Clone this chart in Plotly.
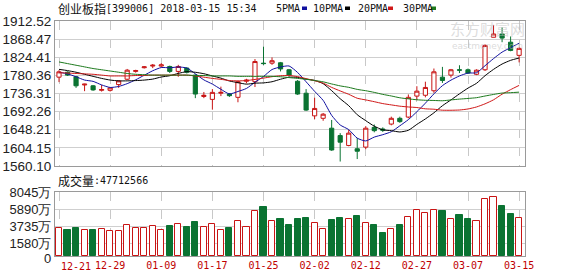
import plotly.graph_objects as go

# ---------------- data ----------------
dates = ["2017-12-21", "2017-12-22", "2017-12-25", "2017-12-26", "2017-12-27", "2017-12-28", "2017-12-29",
         "2018-01-02", "2018-01-03", "2018-01-04", "2018-01-05", "2018-01-08", "2018-01-09", "2018-01-10",
         "2018-01-11", "2018-01-12", "2018-01-15", "2018-01-16", "2018-01-17", "2018-01-18", "2018-01-19",
         "2018-01-22", "2018-01-23", "2018-01-24", "2018-01-25", "2018-01-26", "2018-01-29", "2018-01-30",
         "2018-01-31", "2018-02-01", "2018-02-02", "2018-02-05", "2018-02-06", "2018-02-07", "2018-02-08",
         "2018-02-09", "2018-02-12", "2018-02-13", "2018-02-14", "2018-02-22", "2018-02-23", "2018-02-26",
         "2018-02-27", "2018-02-28", "2018-03-01", "2018-03-02", "2018-03-05", "2018-03-06", "2018-03-07",
         "2018-03-08", "2018-03-09", "2018-03-12", "2018-03-13", "2018-03-14", "2018-03-15"]

opens = [1776, 1788, 1777, 1757, 1755, 1744, 1744, 1758, 1771, 1790,
         1799, 1803, 1803, 1802, 1790, 1798, 1781, 1729, 1722, 1737,
         1735, 1727, 1766, 1765, 1810, 1810, 1811, 1794, 1766, 1737,
         1682, 1676, 1652, 1634, 1610, 1602, 1606, 1654, 1650, 1662,
         1676, 1679, 1730, 1732, 1743, 1776, 1781, 1794, 1794, 1783,
         1794, 1873, 1881, 1861, 1829]
highs = [1793, 1790, 1779, 1760, 1757, 1757, 1750, 1768, 1796, 1794,
         1803, 1808, 1810, 1804, 1806, 1800, 1783, 1740, 1747, 1753,
         1737, 1767, 1772, 1820, 1850, 1824, 1813, 1796, 1769, 1747,
         1726, 1689, 1672, 1640, 1648, 1628, 1657, 1661, 1654, 1680,
         1680, 1734, 1754, 1765, 1797, 1801, 1796, 1805, 1797, 1795,
         1856, 1903, 1897, 1875, 1848]
lows = [1764, 1779, 1750, 1742, 1743, 1741, 1741, 1750, 1769, 1787,
        1797, 1798, 1800, 1786, 1777, 1785, 1725, 1725, 1697, 1730,
        1728, 1715, 1761, 1752, 1806, 1806, 1790, 1777, 1733, 1694,
        1674, 1670, 1597, 1571, 1608, 1577, 1601, 1642, 1643, 1659,
        1665, 1676, 1720, 1727, 1738, 1762, 1775, 1786, 1784, 1781,
        1791, 1873, 1861, 1839, 1812]
closes = [1789, 1781, 1755, 1759, 1745, 1746, 1750, 1767, 1793, 1792,
          1801, 1805, 1806, 1790, 1802, 1788, 1735, 1732, 1739, 1739,
          1731, 1765, 1769, 1814, 1809, 1816, 1796, 1781, 1735, 1696,
          1700, 1686, 1599, 1618, 1640, 1596, 1652, 1646, 1647, 1676,
          1668, 1727, 1742, 1751, 1789, 1768, 1794, 1793, 1786, 1793,
          1853, 1881, 1871, 1841, 1846]

ma5 = [1788, 1784, 1777, 1769, 1765.8, 1757.2, 1751, 1753.4, 1760.2, 1769.6,
       1780.6, 1791.6, 1799.4, 1798.8, 1800.8, 1798.2, 1784.2, 1769.4, 1759.2, 1746.6,
       1735.2, 1741.2, 1748.6, 1763.6, 1777.6, 1794.6, 1800.8, 1803.2, 1787.4, 1764.8,
       1741.6, 1719.6, 1683.2, 1659.8, 1648.6, 1627.8, 1621, 1630.4, 1636.2, 1643.4,
       1657.8, 1672.8, 1692, 1712.8, 1735.4, 1755.4, 1768.8, 1779, 1786, 1786.8,
       1803.8, 1821.2, 1836.8, 1847.8, 1858.4]
ma10 = [1795, 1792, 1788, 1783, 1778, 1773, 1769, 1767, 1767, 1767.7,
        1768.9, 1771.3, 1776.4, 1779.5, 1785.2, 1789.4, 1787.9, 1784.4, 1779, 1773.7,
        1766.7, 1762.7, 1759, 1761.4, 1762.1, 1764.9, 1771, 1775.9, 1775.5, 1771.2,
        1768.1, 1760.2, 1743.2, 1723.6, 1706.7, 1684.7, 1670.3, 1656.8, 1648, 1646,
        1642.8, 1646.9, 1661.2, 1674.5, 1689.4, 1706.6, 1720.8, 1735.5, 1749.4, 1761.1,
        1779.6, 1795, 1807.9, 1816.9, 1822.6]
ma20 = [1787, 1786, 1785, 1784, 1783, 1781, 1779, 1779, 1779, 1780,
        1780, 1781, 1781, 1781, 1781, 1781, 1779, 1776, 1773, 1770.7,
        1767.8, 1767, 1767.7, 1770.5, 1773.7, 1777.2, 1779.5, 1780.2, 1777.3, 1772.5,
        1767.4, 1761.5, 1751.1, 1742.5, 1734.4, 1724.8, 1720.7, 1716.4, 1711.8, 1708.6,
        1705.5, 1703.6, 1702.2, 1699.1, 1698.1, 1695.7, 1695.6, 1696.2, 1698.7, 1703.6,
        1711.2, 1721, 1734.6, 1745.7, 1756]
ma30 = [1813, 1809, 1805, 1801, 1797, 1794, 1791, 1788, 1785, 1783,
        1782, 1781, 1781, 1781, 1781, 1781, 1780, 1780, 1779, 1779,
        1779, 1778, 1778, 1778, 1778, 1778, 1777, 1775, 1773, 1770.9,
        1767.9, 1764.7, 1759.5, 1754.8, 1751.3, 1746.3, 1743.1, 1739, 1734.2, 1730.3,
        1725.9, 1723.3, 1721.1, 1719.8, 1719.4, 1718.7, 1720.7, 1722.7, 1724.3, 1726.1,
        1730.2, 1734, 1737.4, 1738.3, 1739.6]

volumes = [3520, 3230, 3520, 3230, 3230, 3356, 3105, 3105, 3947, 3520,
           3520, 3733, 3230, 3733, 4073, 3645, 4274, 3608, 4073, 3230,
           3520, 4362, 3645, 5619, 6159, 4362, 4613, 3860, 4613, 4776,
           4198, 3444, 4487, 4776, 4701, 4990, 4198, 3860, 2941, 3444,
           3860, 4902, 5744, 5455, 5744, 5619, 4613, 5116, 4613, 4362,
           7127, 7466, 6247, 5330, 4771]

price_ticks = [1560.10, 1604.15, 1648.21, 1692.26, 1736.31, 1780.36, 1824.41, 1868.47, 1912.52]
vol_ticks = [0, 1580, 3735, 5890, 8045]
vol_tick_labels = ["0", "1580万", "3735万", "5890万", "8045万"]
date_tick_idx = [0, 6, 12, 18, 24, 30, 36, 42, 48, 54]
date_tick_labels = ["12-21", "12-29", "01-09", "01-17", "01-25", "02-02", "02-12", "02-27", "03-07", "03-15"]

title_cn = "创业板指"
title_rest = "[399006] 2018-03-15 15:34"
vol_title = "成交量"
vol_total = ":47712566"
ma_names = ["5PMA", "10PMA", "20PMA", "30PMA"]

# ---------------- style ----------------
RED = "#c81414"
GREEN = "#0a7332"
MA_COLORS = ["#1010a0", "#000000", "#d01818", "#1d7a1d"]
W, H = 578, 276
L, R, T, B = 55, 53, 21, 20
PW, PH = W - L - R, H - T - B


def px(X):
    return (X - L) / PW


def py(Y):
    return (H - B - Y) / PH


up = [c >= o for o, c in zip(opens, closes)]

fig = go.Figure()
fig.add_trace(go.Candlestick(
    x=dates, open=opens, high=highs, low=lows, close=closes,
    increasing=dict(line=dict(color=RED, width=1), fillcolor="white"),
    decreasing=dict(line=dict(color=GREEN, width=1), fillcolor=GREEN),
    whiskerwidth=0, showlegend=False, hoverinfo="skip", xaxis="x", yaxis="y"))

for name, vals, col in zip(ma_names, [ma5, ma10, ma20, ma30], MA_COLORS):
    fig.add_trace(go.Scatter(x=dates, y=vals, mode="lines", name=name,
                             line=dict(color=col, width=1, shape="spline", smoothing=0.6),
                             showlegend=False, hoverinfo="skip", xaxis="x", yaxis="y"))

fig.add_trace(go.Bar(
    x=dates, y=volumes, width=0.72,
    marker=dict(color=["white" if u else GREEN for u in up],
                line=dict(color=[RED if u else GREEN for u in up], width=1)),
    showlegend=False, hoverinfo="skip", xaxis="x2", yaxis="y2"))

xr = [-0.47, len(dates) - 1 + 0.69]
tickvals_x = [dates[i] for i in date_tick_idx]
tick_font = dict(family="Liberation Sans", size=13.5, color="#222")
vol_font = dict(family="Liberation Sans", size=13, color="#222")

fig.update_layout(
    width=W, height=H, autosize=False,
    margin=dict(l=L, r=R, t=T, b=B, pad=0),
    paper_bgcolor="white", plot_bgcolor="white",
    bargap=0,
    xaxis=dict(domain=[0, 1], anchor="y", type="category", range=xr, automargin=False,
               tickvals=tickvals_x, showticklabels=False, ticks="",
               showgrid=True, gridcolor="#c8c8c8", griddash="dash", gridwidth=1,
               showline=True, linecolor="#9a9a9a", linewidth=1, mirror=True,
               zeroline=False, rangeslider=dict(visible=False), fixedrange=True),
    xaxis2=dict(domain=[0, 1], anchor="y2", type="category", range=xr, matches="x", automargin=False,
                tickvals=tickvals_x, ticktext=[""] + date_tick_labels[1:], ticks="",
                tickfont=dict(family="DejaVu Sans Mono", size=10, color="#c00000"),
                showgrid=True, gridcolor="#c8c8c8", griddash="dash", gridwidth=1,
                showline=True, linecolor="#9a9a9a", linewidth=1, mirror=True,
                zeroline=False, fixedrange=True),
    yaxis=dict(domain=[py(166), 1], anchor="x", range=[price_ticks[0], price_ticks[-1]], automargin=False,
               tickvals=price_ticks, ticktext=[f"{v:.2f}" for v in price_ticks], ticks="",
               tickfont=tick_font, showgrid=True, gridcolor="#cfcfcf", gridwidth=1,
               showline=True, linecolor="#9a9a9a", linewidth=1, mirror=True,
               zeroline=False, fixedrange=True),
    yaxis2=dict(domain=[0, py(192)], anchor="x2", range=[vol_ticks[0], vol_ticks[-1]], automargin=False,
                tickvals=vol_ticks[1:], ticktext=vol_tick_labels[1:], ticks="",
                tickfont=vol_font, showgrid=True, gridcolor="#cfcfcf", gridwidth=1,
                showline=True, linecolor="#9a9a9a", linewidth=1, mirror=True,
                zeroline=False, fixedrange=True),
)

# darker reference line at the middle price tick
fig.add_shape(type="line", xref="x domain", yref="y", x0=0, x1=1,
              y0=price_ticks[4], y1=price_ticks[4], line=dict(color="#8a8a8a", width=1), layer="below")

ann = []
ann.append(dict(text=title_cn, x=px(56), y=py(8), xref="paper", yref="paper", xanchor="left", yanchor="middle",
                showarrow=False, font=dict(family="Noto Sans CJK SC", size=12, color="#111")))
ann.append(dict(text=title_rest, x=px(104), y=py(8), xref="paper", yref="paper", xanchor="left", yanchor="middle",
                showarrow=False, font=dict(family="DejaVu Sans Mono", size=10, color="#111")))
legend_x = [274, 311, 356, 401]
sq_x = [302, 345, 388, 431]
for name, lx, sx, col in zip(ma_names, legend_x, sq_x, MA_COLORS):
    ann.append(dict(text=name, x=px(lx), y=py(8), xref="paper", yref="paper", xanchor="left", yanchor="middle",
                    showarrow=False, font=dict(family="DejaVu Sans Mono", size=10, color="#111")))
    fig.add_shape(type="rect", xref="paper", yref="paper", x0=px(sx), x1=px(sx + 5),
                  y0=py(10), y1=py(6.5), line=dict(width=0), fillcolor=col)
ann.append(dict(text=vol_title, x=px(56), y=py(180), xref="paper", yref="paper", xanchor="left", yanchor="middle",
                showarrow=False, font=dict(family="Noto Sans CJK SC", size=12, color="#111")))
ann.append(dict(text=vol_total, x=px(92), y=py(180), xref="paper", yref="paper", xanchor="left", yanchor="middle",
                showarrow=False, font=dict(family="DejaVu Sans Mono", size=10, color="#111")))
# zero label of the volume axis, nudged to the bottom edge
ann.append(dict(text=vol_tick_labels[0], x=px(52.5), y=vol_ticks[0], xref="paper", yref="y2", xanchor="right",
                yanchor="middle", yshift=-2, showarrow=False, font=vol_font))
# first date label sits inside the frame
ann.append(dict(text=date_tick_labels[0], x=dates[0], y=py(266), xref="x2", yref="paper", xanchor="left",
                yanchor="middle", showarrow=False,
                font=dict(family="DejaVu Sans Mono", size=10, color="#c00000")))
# faint watermark
ann.append(dict(text="东方财富网", x=px(487), y=py(28), xref="paper", yref="paper", xanchor="center",
                yanchor="middle", showarrow=False,
                font=dict(family="Noto Sans CJK SC", size=15, color="rgba(190,190,190,0.55)")))
ann.append(dict(text="eastmoney.com", x=px(487), y=py(46), xref="paper", yref="paper", xanchor="center",
                yanchor="middle", showarrow=False,
                font=dict(family="DejaVu Sans", size=9, color="rgba(190,190,190,0.55)")))
fig.update_layout(annotations=ann)

fig.write_html("out.html", config=dict(displayModeBar=False))
